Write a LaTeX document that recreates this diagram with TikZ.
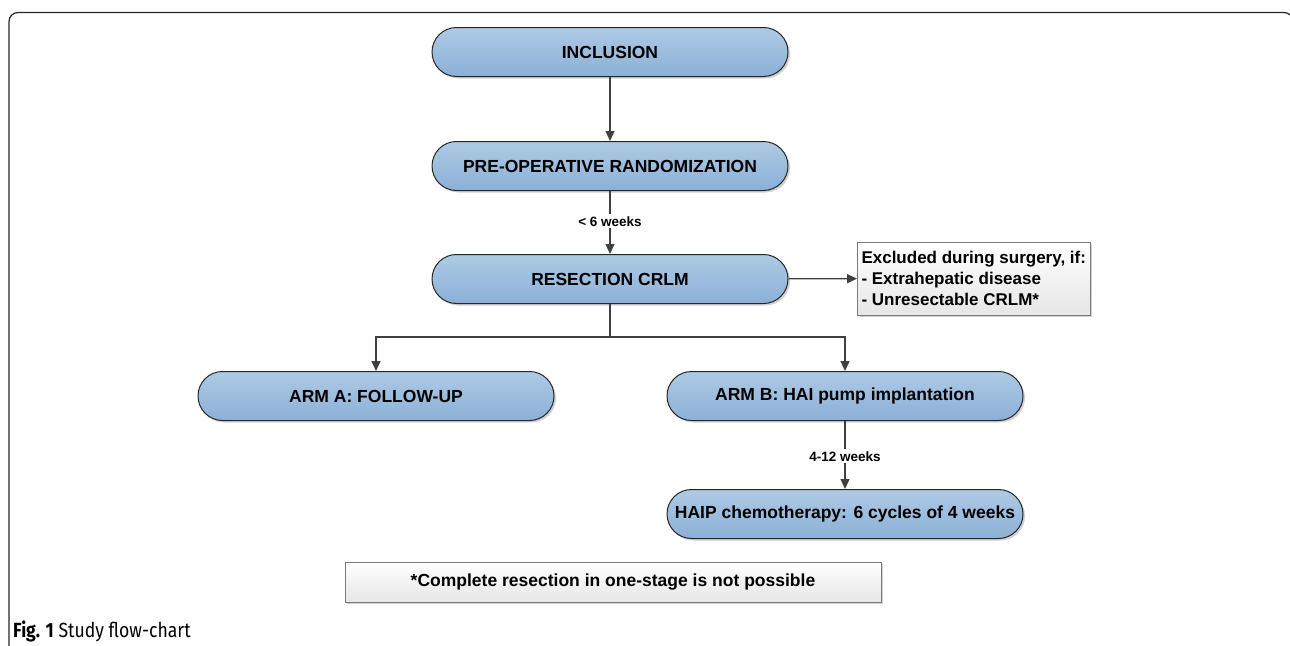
\documentclass[tikz,border=0pt]{standalone}
\usepackage{fontspec}
\setmainfont{Liberation Sans}
\newfontfamily\capfont[FakeStretch=0.86]{Fira Sans}
\usetikzlibrary{arrows.meta,shapes.misc,shadows}
\definecolor{boxtop}{HTML}{AECAE5}
\definecolor{boxbot}{HTML}{8BB0D6}
\definecolor{boxline}{HTML}{262626}
\definecolor{arrowc}{HTML}{404040}
\definecolor{greytop}{HTML}{FFFFFF}
\definecolor{greybot}{HTML}{E6E6E6}
\definecolor{greyline}{HTML}{7A7A7A}
\tikzset{
  pill/.style={rounded rectangle, draw=boxline, line width=1pt,
    top color=boxtop, bottom color=boxbot,
    minimum width=356pt, minimum height=49pt, inner sep=0pt,
    font=\fontsize{17.5}{20}\selectfont\bfseries,
    drop shadow={shadow xshift=2pt, shadow yshift=-2pt, opacity=0.18, fill=black}},
  notebox/.style={rectangle, draw=greyline, line width=1pt,
    top color=greytop, bottom color=greybot,
    font=\fontsize{17}{21}\selectfont\bfseries,
    drop shadow={shadow xshift=2pt, shadow yshift=-2pt, opacity=0.18, fill=black}},
  flow/.style={draw=arrowc, line width=1.3pt, -{Triangle[length=10pt,width=9pt]}},
  plain/.style={draw=arrowc, line width=1.3pt},
  lbl/.style={fill=white, inner sep=2pt, font=\fontsize{13.5}{16}\selectfont\bfseries}
}
\begin{document}
\begin{tikzpicture}[x=1pt,y=-1pt]
\useasboundingbox (0,0) rectangle (1290,645);
% frame
\draw[line width=1.2pt, draw=black!85, rounded corners=9pt] (9,660) -- (9,12.5) -- (1293,12.5) -- (1293,660);
% nodes
\node[pill] (inc) at (610,52) {INCLUSION};
\node[pill] (pre) at (610,166) {PRE-OPERATIVE RANDOMIZATION};
\node[pill] (res) at (610,279) {RESECTION CRLM};
\node[notebox, anchor=west, minimum height=73pt, align=left, inner xsep=4pt] (exc) at (857,278.5)
  {Excluded during surgery, if:\\- Extrahepatic disease\\- Unresectable CRLM*};
\node[pill] (arma) at (376,396) {ARM A: FOLLOW-UP};
\node[pill] (armb) at (845,396) {ARM B: HAI pump implantation};
\node[pill] (haip) at (845,514) {HAIP chemotherapy: 6 cycles of 4 weeks};
\node[notebox, minimum width=536pt, minimum height=40pt, inner sep=0pt, font=\fontsize{17.5}{21}\selectfont\bfseries] (foot) at (613,582)
  {*Complete resection in one-stage is not possible};
\coordinate (split) at (610,337);
% connectors
\draw[flow] (inc) -- (pre);
\draw[flow] (pre) -- node[lbl, pos=0.48] (l1) {< 6 weeks} (res);
\draw[flow] (res) -- (exc);
\draw[plain] (res) -- (split);
\draw[flow] (split) -| (arma.north);
\draw[flow] (split) -| (armb.north);
\draw[flow] (armb) -- node[lbl, pos=0.52] (l2) {4-12 weeks} (haip);
% caption
\node[anchor=base west, inner sep=0pt, font=\capfont\fontsize{20.5}{22}\selectfont] (cap) at (13,637)
  {\textbf{Fig. 1} Study flow-chart};
\end{tikzpicture}
\end{document}
